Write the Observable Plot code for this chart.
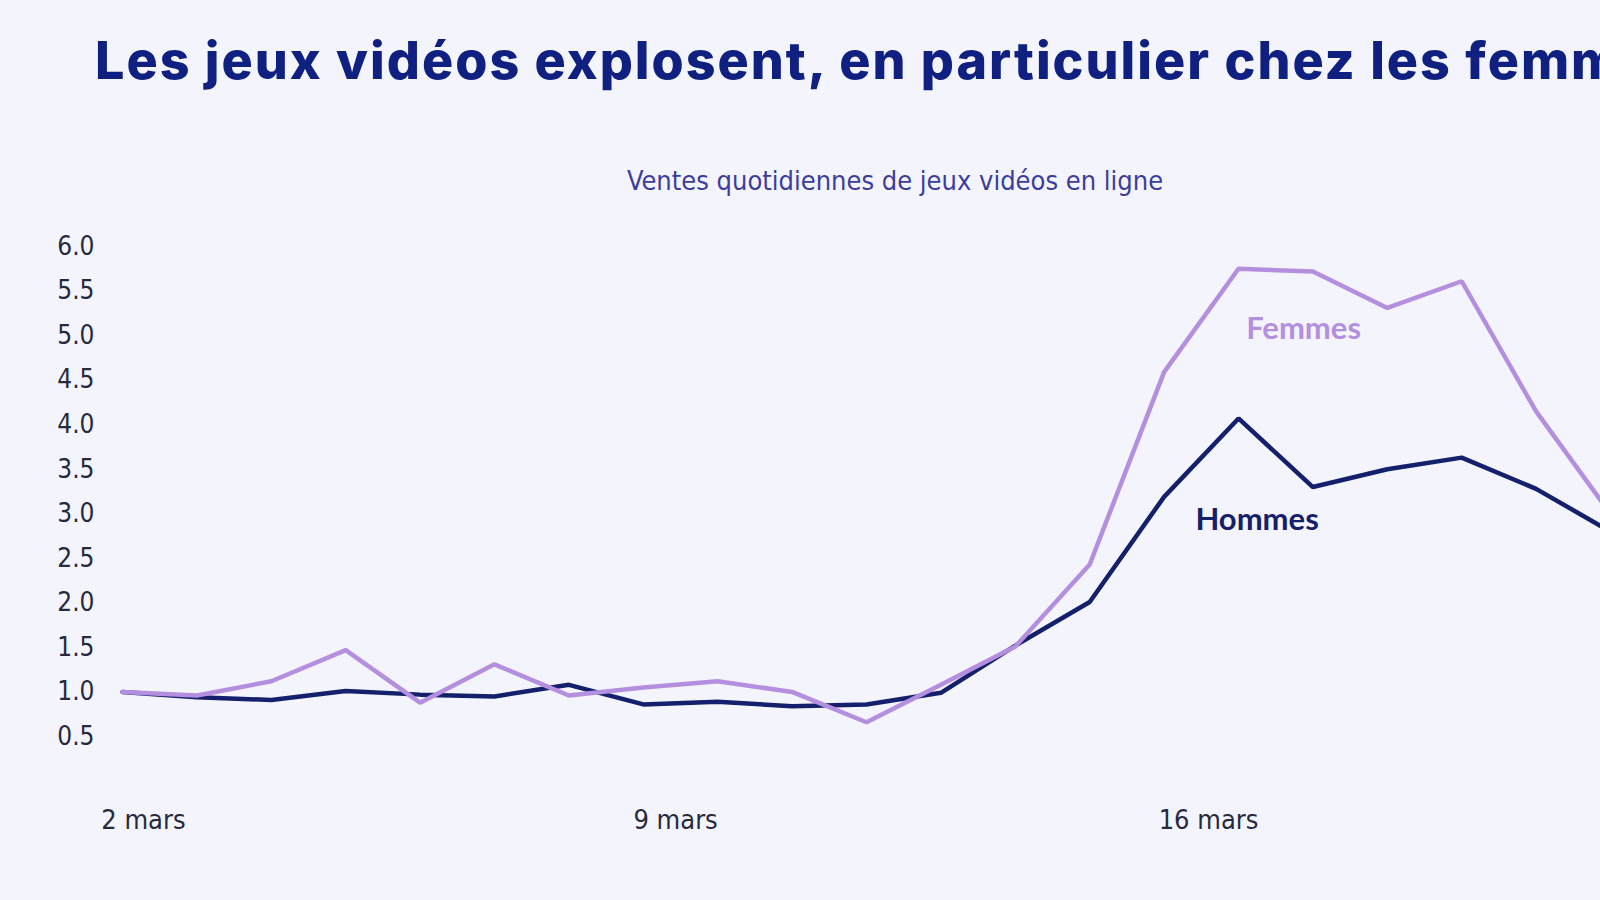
<!DOCTYPE html>
<html>
<head>
<meta charset="utf-8">
<script src="https://cdn.jsdelivr.net/npm/d3@7"></script>
<script src="https://cdn.jsdelivr.net/npm/@observablehq/plot@0.6"></script>
<style>
  html, body { margin: 0; padding: 0; background: #f4f5fc; overflow: hidden; }
  #wrap { position: relative; width: 1600px; height: 900px; overflow: hidden; background: #f4f5fc; }
  #title { position: absolute; left: 95px; top: 35px; white-space: nowrap;
    font-family: Inter, "Open Sans", sans-serif; font-weight: 800; font-size: 52px;
    color: #0f2080; letter-spacing: 2px; line-height: 1; }
  #subtitle { position: absolute; left: 0; width: 1790px; top: 167px; text-align: center; white-space: nowrap;
    font-family: "DejaVu Sans Condensed", "DejaVu Sans", sans-serif; font-stretch: condensed; font-size: 27px;
    color: #3c3d9c; line-height: 1; }
  #chart { position: absolute; left: 0; top: 200px; width: 1700px; height: 700px; }
  #chart svg { max-width: none !important; }
</style>
</head>
<body>
<div id="wrap">
  <div id="title">Les jeux vidéos explosent, en particulier chez les femmes</div>
  <div id="subtitle">Ventes quotidiennes de jeux vidéos en ligne</div>
  <div id="chart"></div>
</div>
<script>
const dates = ["2020-03-02","2020-03-03","2020-03-04","2020-03-05","2020-03-06","2020-03-07","2020-03-08",
  "2020-03-09","2020-03-10","2020-03-11","2020-03-12","2020-03-13","2020-03-14","2020-03-15",
  "2020-03-16","2020-03-17","2020-03-18","2020-03-19","2020-03-20","2020-03-21","2020-03-22"];
const femmes = [1.00, 0.96, 1.12, 1.47, 0.88, 1.31, 0.96, 1.05, 1.12, 1.00, 0.66, 1.08, 1.51, 2.43, 4.59, 5.75, 5.72, 5.31, 5.61, 4.15, 3.00];
const hommes = [1.00, 0.94, 0.91, 1.01, 0.97, 0.95, 1.08, 0.86, 0.89, 0.84, 0.86, 0.99, 1.52, 2.01, 3.19, 4.07, 3.30, 3.50, 3.63, 3.28, 2.80];
const yTicks = [0.5, 1, 1.5, 2, 2.5, 3, 3.5, 4, 4.5, 5, 5.5, 6];
// tick label anchor times (labels sit slightly right of their day in the original)
const xTicks = ["2020-03-02T06:45Z", "2020-03-09T10:25Z", "2020-03-16T14:20Z"];
const seriesNames = ["Femmes", "Hommes"];
const seriesColors = ["#b58fdf", "#14206b"];
const labelDates = ["2020-03-17T21:00Z", "2020-03-17T06:00Z"];
const labelValues = [5.07, 2.93];

const parse = s => new Date(s.length === 10 ? s + "T00:00Z" : s);
const rowsF = dates.map((d, i) => ({date: parse(d), value: femmes[i]}));
const rowsH = dates.map((d, i) => ({date: parse(d), value: hommes[i]}));
const labels = seriesNames.map((n, i) => ({name: n, date: parse(labelDates[i]), value: labelValues[i], color: seriesColors[i]}));

const chart = Plot.plot({
  width: 1700,
  height: 700,
  marginTop: 46,
  marginBottom: 164,
  marginLeft: 122,
  marginRight: 90,
  style: {background: "transparent", color: "#272a3d", overflow: "visible", maxWidth: "none"},
  x: {type: "utc", domain: [parse(dates[0]), parse(dates[dates.length - 1])]},
  y: {domain: [0.5, 6]},
  marks: [
    Plot.axisY({ticks: yTicks, tickFormat: d3.format(".1f"), tickSize: 0, tickPadding: 28, label: null,
      fontSize: 26, fontFamily: "DejaVu Sans Condensed, DejaVu Sans, sans-serif"}),
    Plot.axisX({ticks: xTicks.map(parse), tickFormat: d => `${d.getUTCDate()} mars`, tickSize: 0, tickPadding: 73,
      label: null, fontSize: 27, fontFamily: "DejaVu Sans Condensed, DejaVu Sans, sans-serif"}),
    Plot.line(rowsH, {x: "date", y: "value", stroke: seriesColors[1], strokeWidth: 4.5, strokeLinejoin: "miter"}),
    Plot.line(rowsF, {x: "date", y: "value", stroke: seriesColors[0], strokeWidth: 4.5, strokeLinejoin: "miter"}),
    Plot.text(labels, {x: "date", y: "value", text: "name", fill: "color", fontSize: 31, fontWeight: 700,
      fontFamily: "Lato, sans-serif"})
  ]
});
chart.style.fontFamily = "DejaVu Sans Condensed, DejaVu Sans, sans-serif";
chart.style.maxWidth = "none";
document.getElementById("chart").appendChild(chart);
</script>
</body>
</html>
